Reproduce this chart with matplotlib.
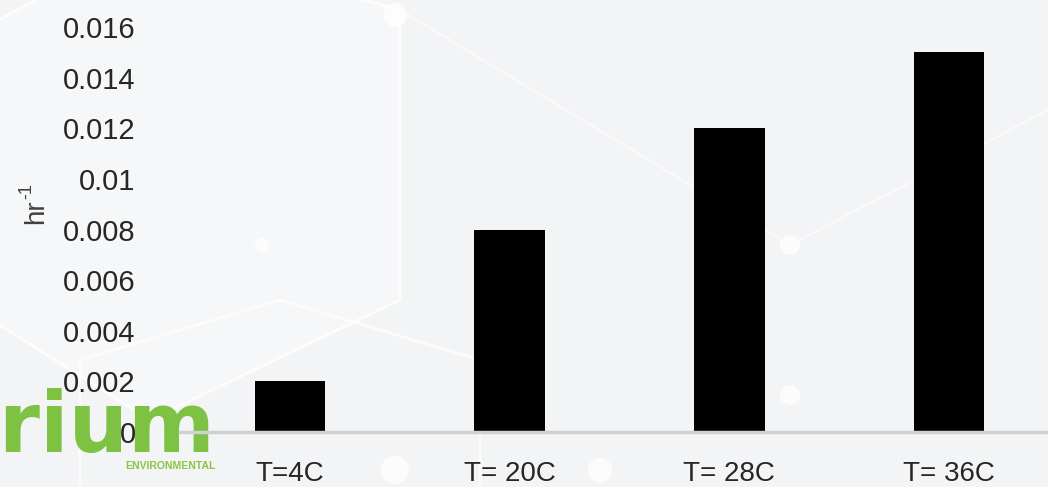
import matplotlib.pyplot as plt
from matplotlib.patches import Polygon, Ellipse
import numpy as np

# Data
categories = ['T=4C', 'T= 20C', 'T= 28C', 'T= 36C']
rates = [0.002, 0.008, 0.012, 0.015]
yticks = [0, 0.002, 0.004, 0.006, 0.008, 0.01, 0.012, 0.014, 0.016]
ytick_labels = ['0', '0.002', '0.004', '0.006', '0.008', '0.01', '0.012', '0.014', '0.016']

plt.rcParams['font.family'] = ['Liberation Sans', 'DejaVu Sans']

W, H = 1048, 487
fig = plt.figure(figsize=(W / 100, H / 100), dpi=100)
fig.patch.set_facecolor('#f3f4f6')

# faint slide decoration: hexagon outlines and dots (pixel coords -> figure coords)
def px(x, y):
    return (x / W, 1 - y / H)

hex_pts = [px(-40, 40), px(150, -60), px(400, 10), px(400, 300), px(150, 420), px(-40, 300)]
fig.patches.append(Polygon(hex_pts, closed=True, transform=fig.transFigure,
                           facecolor='#f8f8f9', edgecolor='white', lw=2, alpha=0.8, zorder=-3))
hex2 = [px(280, 300), px(480, 360), px(480, 520), px(280, 580), px(80, 520), px(80, 360)]
fig.patches.append(Polygon(hex2, closed=True, transform=fig.transFigure,
                           facecolor='none', edgecolor='white', lw=2, alpha=0.7, zorder=-3))
fig.lines.append(plt.Line2D([400 / W, 790 / W], [1 - 10 / H, 1 - 245 / H], alpha=0.6,
                            transform=fig.transFigure, color='white', lw=1.5, zorder=-3))
fig.lines.append(plt.Line2D([790 / W, 1048 / W], [1 - 245 / H, 1 - 110 / H], alpha=0.6,
                            transform=fig.transFigure, color='white', lw=1.5, zorder=-3))
for cx, cy, r in [(395, 15, 12), (790, 245, 10), (790, 395, 10), (395, 470, 14),
                  (262, 245, 7), (600, 470, 12)]:
    fig.patches.append(Ellipse(px(cx, cy), 2 * r / W, 2 * r / H, transform=fig.transFigure,
                               facecolor='white', edgecolor='none', alpha=0.8, zorder=-2))

# logo
fig.text(216 / W, 1 - 452 / H, 'trium', color='#7dc242', fontsize=60, fontweight='bold',
         family='DejaVu Sans', ha='right', va='baseline', zorder=-1)
fig.text(216 / W, 1 - 466 / H, 'ENVIRONMENTAL', color='#8cc63f', fontsize=7.5,
         fontweight='bold', ha='right', va='center', zorder=-1)

ax = fig.add_axes([180 / W, 55 / H, (W - 180) / W, (432 - 14.5) / H])
ax.patch.set_alpha(0)

x = np.arange(len(categories))
ax.bar(x, rates, width=0.32, color='black', zorder=2)

ax.set_xlim(-0.5, 3.45)
ax.set_ylim(0, 0.0165)
ax.set_yticks(yticks)
ax.set_yticklabels(ytick_labels, fontsize=21, color='#262626')
ax.set_xticks(x)
ax.set_xticklabels(categories, fontsize=20, color='#262626')
ax.tick_params(axis='y', length=0, pad=32)
ax.tick_params(axis='x', length=0, pad=21)

for side in ['top', 'right', 'left']:
    ax.spines[side].set_visible(False)
ax.spines['bottom'].set_color('#d0d0d0')
ax.spines['bottom'].set_linewidth(2.5)

# axis label "hr-1" with a plain hyphen superscript
fig.text(36 / W, 1 - 212 / H, 'hr', rotation=90, fontsize=20, color='#404040',
         ha='center', va='center')
fig.text(27 / W, 1 - 191 / H, '-1', rotation=90, fontsize=13, color='#404040',
         ha='center', va='center')

fig.savefig('out.png', dpi=100, facecolor=fig.get_facecolor())
